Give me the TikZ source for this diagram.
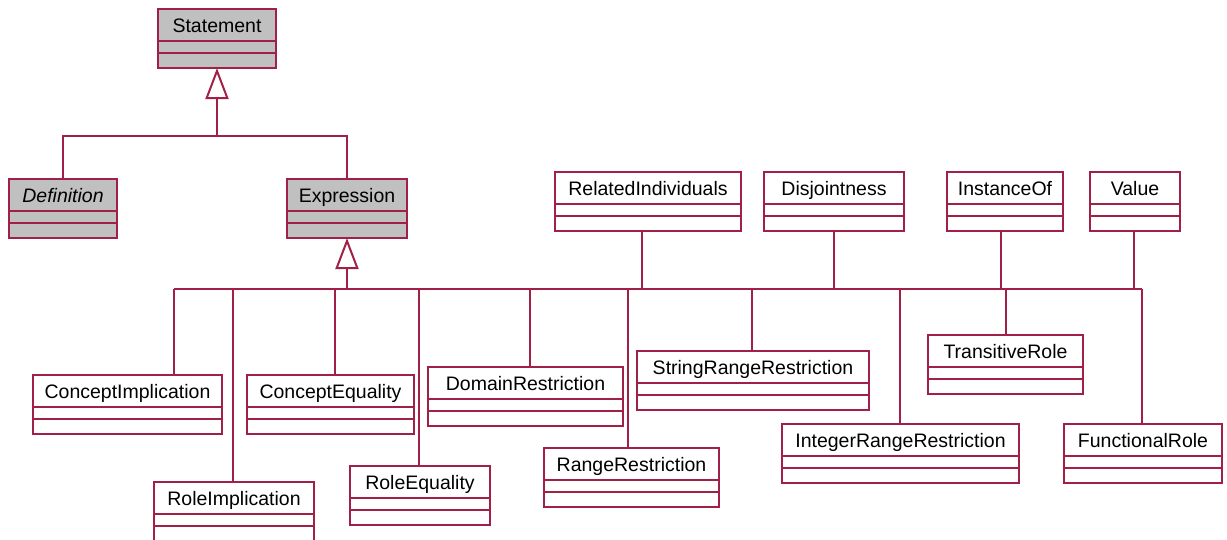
\documentclass[tikz,border=0pt]{standalone}
\usepackage{fontspec}
\setmainfont{Liberation Sans}
\usetikzlibrary{arrows.meta}
\definecolor{umlred}{RGB}{160,32,72}
\definecolor{umlgray}{RGB}{192,192,192}
\begin{document}
\begin{tikzpicture}[x=1pt,y=-1pt,
  umlclass/.style={draw=umlred, line width=2pt, fill=white,
    anchor=north west, inner sep=0pt, outer sep=0pt,
    minimum height=59pt, text height=23pt, text depth=36pt,
    font=\fontsize{19.5}{22}\selectfont,
    path picture={
      \draw[umlred, line width=2pt]
        ([yshift=-32pt]path picture bounding box.north west) --
        ([yshift=-32pt]path picture bounding box.north east)
        ([yshift=-44pt]path picture bounding box.north west) --
        ([yshift=-44pt]path picture bounding box.north east);
    }},
  abstractclass/.style={umlclass, fill=umlgray},
  conn/.style={draw=umlred, line width=2pt},
  gen/.style={conn, -{Triangle[open, length=31pt, width=23pt]}}]
\useasboundingbox (0,0) rectangle (1227,539);
\clip (0,0) rectangle (1227,539);

% top of the hierarchy
\node[abstractclass, minimum width=118pt] (statement)  at (158,9)   {Statement};
\node[abstractclass, minimum width=108pt] (definition) at (9,179)   {\itshape Definition};
\node[abstractclass, minimum width=120pt] (expression) at (287,179) {Expression};

% classes hanging above the bus
\node[umlclass, minimum width=186pt] (relind) at (555,172)  {RelatedIndividuals};
\node[umlclass, minimum width=140pt] (disj)   at (764,172)  {Disjointness};
\node[umlclass, minimum width=116pt] (instof) at (947,172)  {InstanceOf};
\node[umlclass, minimum width=90pt]  (value)  at (1090,172) {Value};

% subclasses of Expression
\node[umlclass, minimum width=189pt] (cimpl)     at (33,375)   {ConceptImplication};
\node[umlclass, minimum width=167pt] (ceq)       at (247,375)  {ConceptEquality};
\node[umlclass, minimum width=160pt] (rimpl)     at (154,482)  {RoleImplication};
\node[umlclass, minimum width=140pt] (req)       at (350,466)  {RoleEquality};
\node[umlclass, minimum width=195pt] (domres)    at (428,367)  {DomainRestriction};
\node[umlclass, minimum width=175pt] (rangeres)  at (544,448)  {RangeRestriction};
\node[umlclass, minimum width=232pt] (strres)    at (637,351)  {StringRangeRestriction};
\node[umlclass, minimum width=237pt] (intres)    at (782,424)  {IntegerRangeRestriction};
\node[umlclass, minimum width=155pt] (transrole) at (928,335)  {TransitiveRole};
\node[umlclass, minimum width=158pt] (funcrole)  at (1064,424) {FunctionalRole};

% Statement generalization
\coordinate (stmtjoin) at (217,136);
\draw[gen] (stmtjoin) -- (statement.south);
\draw[conn] (definition.north) |- (stmtjoin) -| (expression.north);

% Expression generalization and the shared bus
\coordinate (busstem) at (347,289);
\coordinate (busL) at (174,289);
\coordinate (busR) at (1142,289);
\draw[gen] (busstem) -- (expression.south);
\draw[conn] (busL) -- (busR);

% drops from the bus to the subclasses
\foreach \x/\n in {174/cimpl, 233/rimpl, 335/ceq, 419/req, 530/domres,
                   628/rangeres, 752/strres, 900/intres, 1006/transrole,
                   1142/funcrole}
  \draw[conn] (\x,289) -- (\x,289 |- \n.north);

% stems from the upper classes down to the bus
\foreach \x/\n in {642/relind, 834/disj, 1001/instof, 1134/value}
  \draw[conn] (\x,289) -- (\x,289 |- \n.south);
\end{tikzpicture}
\end{document}
